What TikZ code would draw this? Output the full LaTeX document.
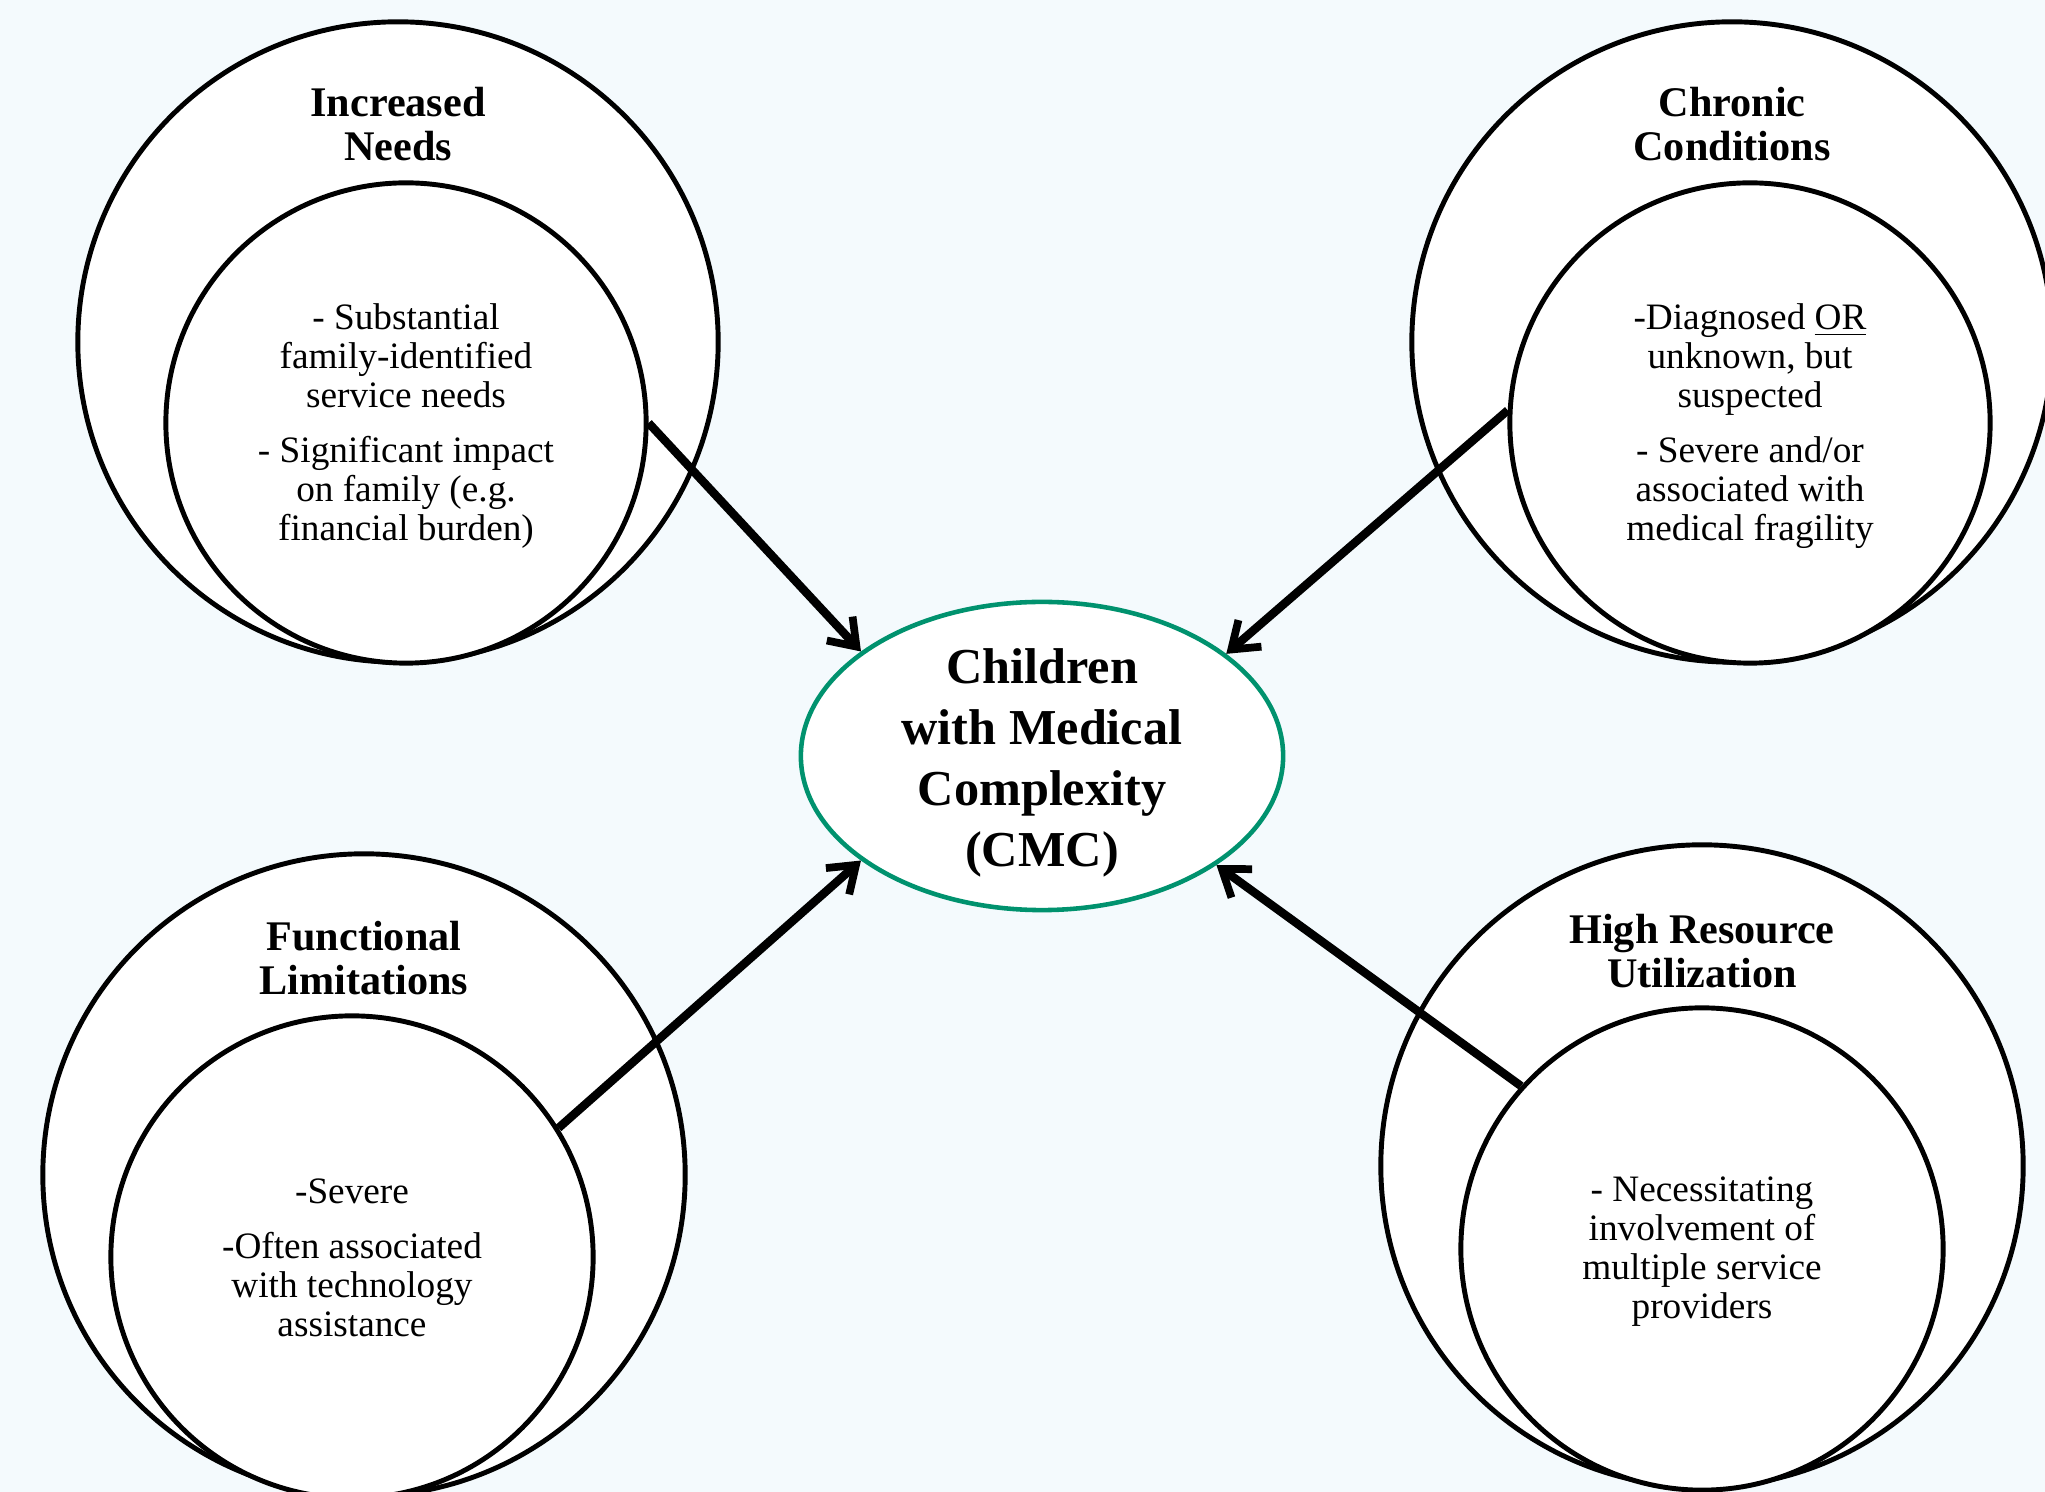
\documentclass[tikz,border=0pt]{standalone}
\usepackage{fontspec}
\setmainfont{Liberation Serif}
\usetikzlibrary{shapes.geometric,arrows.meta}
\definecolor{bgcol}{RGB}{244,250,253}
\definecolor{cmcgreen}{RGB}{0,146,110}
\tikzset{
  outerc/.style={circle, draw=black, fill=white, line width=1.4pt, inner sep=0pt},
  innerc/.style={circle, draw=black, fill=white, line width=1.4pt, inner sep=0pt},
  ttl/.style={align=center, inner sep=0pt, font=\fontsize{12}{12.4}\selectfont\bfseries},
  bodytxt/.style={align=center, inner sep=0pt, font=\fontsize{10.6}{11.1}\selectfont},
  conn/.style={line width=2.4pt, -{Straight Barb[length=7pt, width=10pt, line width=2.2pt]}}
}
\begin{document}
\begin{tikzpicture}[x=0.01cm,y=-0.01cm]
\fill[bgcol] (0,0) rectangle (2045,1492);
\useasboundingbox (0,0) rectangle (2045,1492);

% Increased Needs
\node[outerc, minimum size=6.4cm] (o1) at (398,342) {};
\node[innerc, minimum size=4.8cm] (i1) at (406,423) {};
\node[ttl] (t1) at (398,124) {Increased\\Needs};
\node[bodytxt] (b1) at (406,426) {- Substantial\\family-identified\\service needs\\[4.5pt]- Significant impact\\on family (e.g.\\financial burden)};

% Chronic Conditions
\node[outerc, minimum size=6.4cm] (o2) at (1732,342) {};
\node[innerc, minimum size=4.8cm] (i2) at (1750,423) {};
\node[ttl] (t2) at (1732,124) {Chronic\\Conditions};
\node[bodytxt] (b2) at (1750,426) {-Diagnosed \underline{OR}\\unknown, but\\suspected\\[4.5pt]- Severe and/or\\associated with\\medical fragility};

% Functional Limitations
\node[outerc, minimum size=6.42cm] (o3) at (364,1175) {};
\node[innerc, minimum size=4.82cm] (i3) at (352,1257) {};
\node[ttl] (t3) at (364,958) {Functional\\Limitations};
\node[bodytxt] (b3) at (352,1258) {-Severe\\[4.5pt]-Often associated\\with technology\\assistance};

% High Resource Utilization
\node[outerc, minimum size=6.42cm] (o4) at (1702,1166) {};
\node[innerc, minimum size=4.82cm] (i4) at (1702,1249) {};
\node[ttl] (t4) at (1702,951) {High Resource\\Utilization};
\node[bodytxt] (b4) at (1702,1252) {- Necessitating\\involvement of\\multiple service\\providers};

% Centre
\node[ellipse, draw=cmcgreen, fill=white, line width=1.3pt, minimum width=4.82cm, minimum height=3.08cm, inner sep=0pt] (cmc) at (1042,756) {};
\node[align=center, inner sep=0pt, font=\fontsize{14.3}{17.4}\selectfont\bfseries] (cmct) at (1042,763) {Children\\with Medical\\Complexity\\(CMC)};

% Connectors
\draw[conn] (i1.0) -- (cmc.150);
\draw[conn] (i2.177) -- (cmc.29);
\draw[conn] (i3.32) -- (cmc.210);
\draw[conn] (i4.138) -- (cmc.328);
\end{tikzpicture}
\end{document}
